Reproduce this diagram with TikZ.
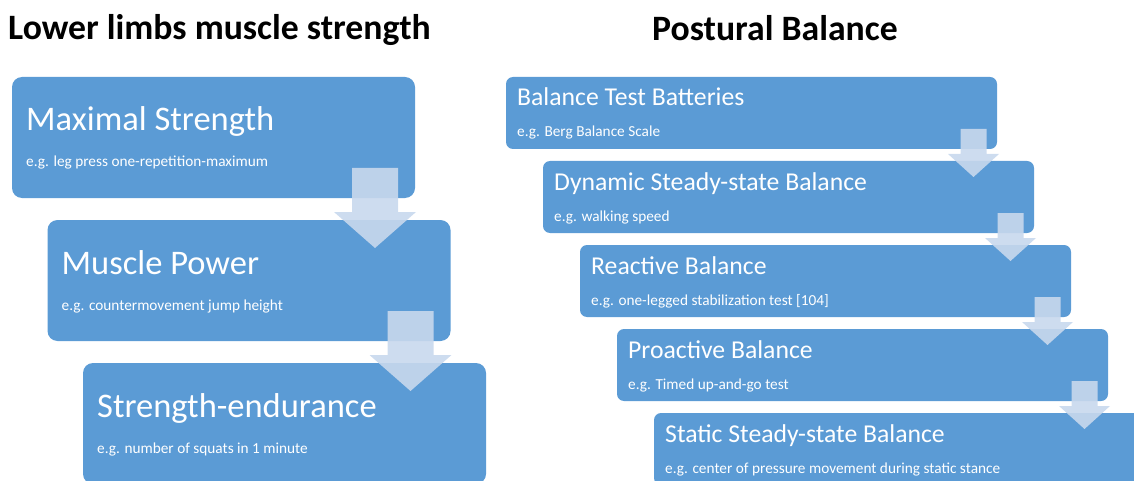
\documentclass[tikz,border=0pt]{standalone}
\usepackage{fontspec}
\setmainfont{Carlito}
\usetikzlibrary{calc}
\definecolor{boxblue}{HTML}{5B9BD5}
\definecolor{arrowblue}{RGB}{200,216,237}
\tikzset{
  stagebox/.style={draw=none, fill=boxblue, rounded corners=#1, inner sep=0pt, outer sep=0pt, anchor=north west},
  leftbox/.style={stagebox=10pt, minimum width=403pt, minimum height=121pt},
  rightbox/.style={stagebox=7pt, minimum width=491pt, minimum height=72pt},
  bigtitle/.style={anchor=base west, inner sep=0pt, text=white, font=\fontsize{34.5}{41}\selectfont},
  bigsub/.style={anchor=base west, inner sep=0pt, text=white, font=\fontsize{15.3}{18}\selectfont},
  smalltitle/.style={anchor=base west, inner sep=0pt, text=white, font=\fontsize{25.7}{31}\selectfont},
  smallsub/.style={anchor=base west, inner sep=0pt, text=white, font=\fontsize{15.3}{18}\selectfont},
  header/.style={anchor=base west, inner sep=0pt, text=black, font=\bfseries\fontsize{35.7}{43}\selectfont},
  blockarrow/.style={fill=arrowblue, fill opacity=0.9, draw=none}
}
% down-pointing block arrow hanging from the lower right of a box
% #1 box, #2 inset from right edge, #3 half shaft, #4 half head,
% #5 shaft top above bottom, #6 head top below bottom, #7 tip below bottom
\newcommand{\stagearrow}[7]{%
  \begin{scope}[shift={($(#1.south east)+(-#2,0)$)}]
    \fill[blockarrow] (-#3,-#5) -- (#3,-#5) -- (#3,#6) -- (#4,#6) -- (0,#7)
      -- (-#4,#6) -- (-#3,#6) -- cycle;
  \end{scope}}
\begin{document}
\begin{tikzpicture}[x=1pt, y=-1pt]
\useasboundingbox (0,0) rectangle (1134,481);
\clip (0,0) rectangle (1134,481);

% headings
\node[header] (hl) at (8,40) {Lower limbs muscle strength};
\node[header] (hr) at (652,41) {Postural Balance};

% lower limbs muscle strength
\node[leftbox] (l1) at (12,77) {};
\node[leftbox] (l2) at (47.5,220) {};
\node[leftbox] (l3) at (83,363) {};
\node[bigtitle] (l1t) at ($(l1.north west)+(14,54)$) {Maximal Strength};
\node[bigsub] (l1s) at ($(l1.north west)+(14,90)$) {e.g. leg press one-repetition-maximum};
\node[bigtitle] (l2t) at ($(l2.north west)+(14,54)$) {Muscle Power};
\node[bigsub] (l2s) at ($(l2.north west)+(14,90)$) {e.g. countermovement jump height};
\node[bigtitle] (l3t) at ($(l3.north west)+(14,54)$) {Strength-endurance};
\node[bigsub] (l3s) at ($(l3.north west)+(14,90)$) {e.g. number of squats in 1 minute};
\stagearrow{l1}{40}{23}{41}{30}{14}{50}
\stagearrow{l2}{40}{23}{41}{30}{14}{50}

% postural balance
\node[rightbox] (r1) at (506,77) {};
\node[rightbox] (r2) at (543,161) {};
\node[rightbox] (r3) at (580,245) {};
\node[rightbox] (r4) at (617,329) {};
\node[rightbox] (r5) at (654,413) {};
\node[smalltitle] (r1t) at ($(r1.north west)+(11,29)$) {Balance Test Batteries};
\node[smallsub] (r1s) at ($(r1.north west)+(11,60)$) {e.g. Berg Balance Scale};
\node[smalltitle] (r2t) at ($(r2.north west)+(11,29)$) {Dynamic Steady-state Balance};
\node[smallsub] (r2s) at ($(r2.north west)+(11,60)$) {e.g. walking speed};
\node[smalltitle] (r3t) at ($(r3.north west)+(11,29)$) {Reactive Balance};
\node[smallsub] (r3s) at ($(r3.north west)+(11,60)$) {e.g. one-legged stabilization test [104]};
\node[smalltitle] (r4t) at ($(r4.north west)+(11,29)$) {Proactive Balance};
\node[smallsub] (r4s) at ($(r4.north west)+(11,60)$) {e.g. Timed up-and-go test};
\node[smalltitle] (r5t) at ($(r5.north west)+(11,29)$) {Static Steady-state Balance};
\node[smallsub] (r5s) at ($(r5.north west)+(11,60)$) {e.g. center of pressure movement during static stance};
\stagearrow{r1}{23.5}{13}{25.5}{20}{5}{28}
\stagearrow{r2}{23.5}{13}{25.5}{20}{5}{28}
\stagearrow{r3}{23.5}{13}{25.5}{20}{5}{28}
\stagearrow{r4}{23.5}{13}{25.5}{20}{5}{28}
\end{tikzpicture}
\end{document}
